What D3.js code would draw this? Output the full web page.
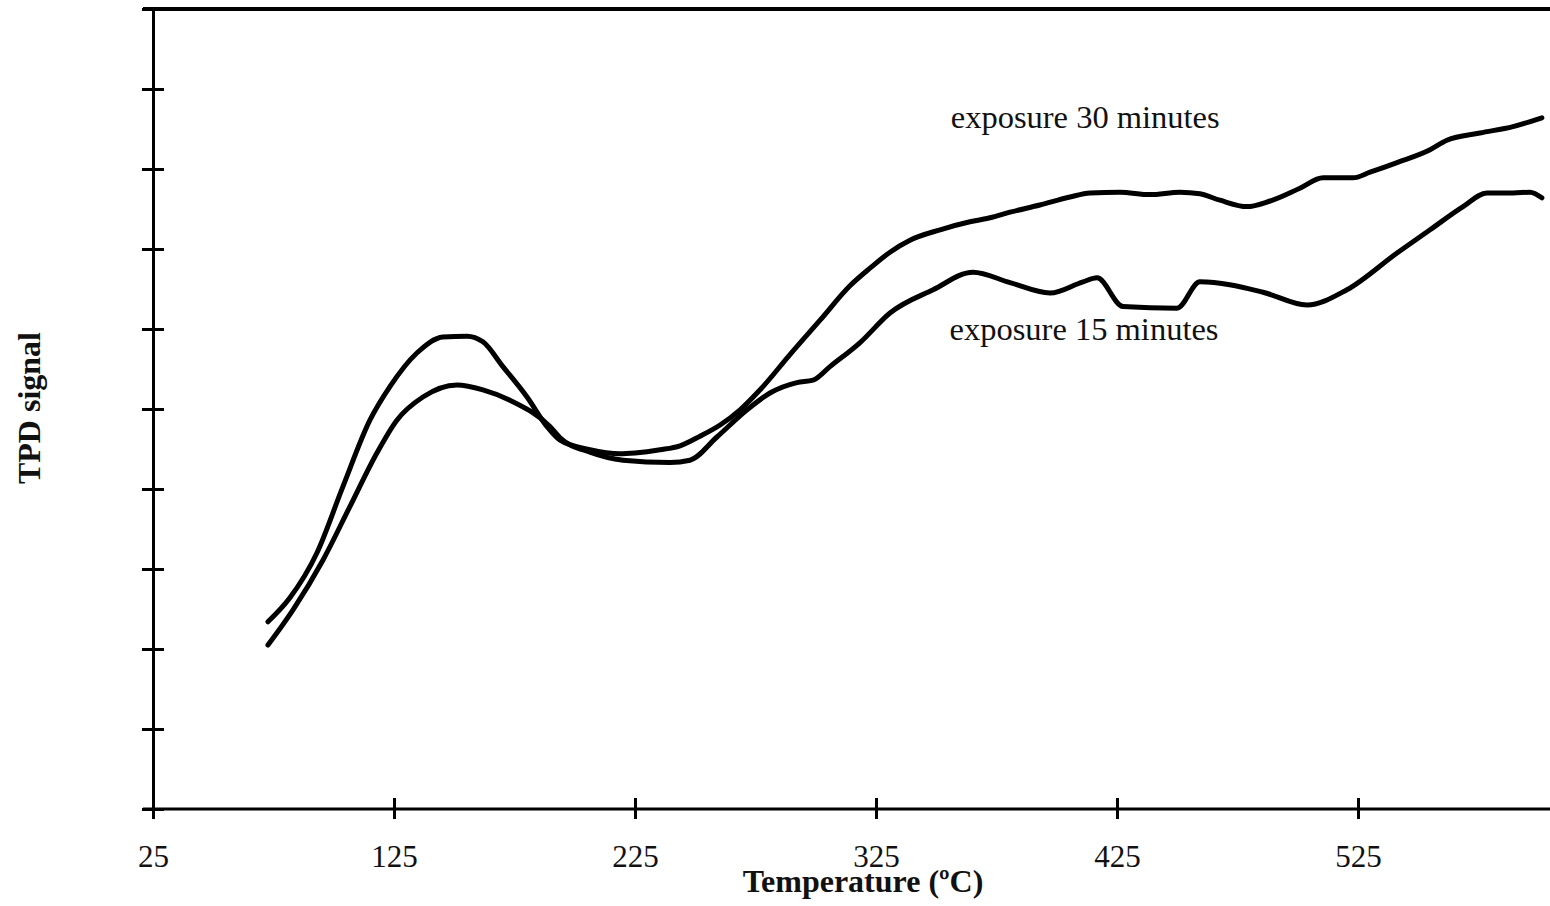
<!DOCTYPE html>
<html>
<head>
<meta charset="utf-8">
<script src="https://cdn.jsdelivr.net/npm/d3@7"></script>
<style>
  body { margin: 0; background: #fff; }
  text { font-family: "Liberation Serif", "Times New Roman", serif; fill: #111; }
</style>
</head>
<body>
<div class="chart"></div>
<script>
// temperature (ºC) / TPD signal (arbitrary units)
const temp30 = [72.7, 81.8, 93.0, 103.8, 115.0, 123.3, 134.5, 145.3, 155.3, 161.9, 170.2, 180.2, 188.5, 193.9,
  206.3, 218.8, 225, 235.4, 243.7, 252, 260.3, 268.6, 276.9, 289.3, 301.8, 314.2, 322.5, 330.8, 339.1,
  351.6, 364, 372.3, 380.6, 393, 405.5, 413.8, 426.2, 438.7, 451.1, 459.4, 467.7, 478.9, 488.5, 500.9,
  510.5, 522.9, 530, 541.2, 554.9, 561.9, 575.6, 589.3, 601.3]
const signal30 = [2.34, 2.64, 3.20, 4.03, 4.86, 5.28, 5.70, 5.90, 5.91, 5.84, 5.53, 5.15, 4.78, 4.61,
  4.49, 4.44, 4.45, 4.49, 4.54, 4.66, 4.80, 4.99, 5.24, 5.68, 6.11, 6.54, 6.76, 6.96, 7.11,
  7.24, 7.34, 7.39, 7.46, 7.55, 7.65, 7.70, 7.71, 7.68, 7.71, 7.69, 7.61, 7.53, 7.60, 7.76,
  7.89, 7.89, 7.96, 8.08, 8.24, 8.36, 8.45, 8.53, 8.64]

const temp15 = [72.7, 83.1, 95.5, 106.7, 117.9, 126.2, 137.0, 151.1, 161.9, 173.1, 189.7, 193.9, 206.3,
  220.0, 239.5, 247.8, 259.0, 271.5, 281.0, 292.2, 298.9, 305.9, 318.4, 330.8, 348.7, 365.2, 380.6,
  397.2, 410.9, 416.7, 427.5, 449.9, 459.4, 485.6, 503.8, 520.4, 541.2, 554.9, 568.6, 578.5, 589.3,
  596.4, 601.3]
const signal15 = [2.05, 2.49, 3.11, 3.78, 4.45, 4.86, 5.15, 5.30, 5.24, 5.11, 4.78, 4.64, 4.46,
  4.36, 4.33, 4.36, 4.65, 4.99, 5.20, 5.33, 5.36, 5.53, 5.83, 6.20, 6.49, 6.71, 6.58,
  6.45, 6.59, 6.64, 6.28, 6.26, 6.59, 6.46, 6.30, 6.49, 6.95, 7.24, 7.53, 7.70, 7.70,
  7.71, 7.64]

const xTicks = [25, 125, 225, 325, 425, 525]
const yTicks = [0, 1, 2, 3, 4, 5, 6, 7, 8, 9, 10]

let svg = d3.select(".chart").append("svg").attr("width", 1550).attr("height", 906),
    margin = {top: 9, right: 0, bottom: 97, left: 153},
    width = svg.attr("width") - margin.left - margin.right,
    height = svg.attr("height") - margin.top - margin.bottom;

let x = d3.scaleLinear().domain([25, 25 + width / 2.41]).range([margin.left, margin.left + width]);
let y = d3.scaleLinear().domain([0, 10]).range([margin.top + height, margin.top]);

// frame: top border and x axis run out to the right edge
svg.append("line")
  .attr("x1", margin.left - 10).attr("x2", 1550)
  .attr("y1", y(10)).attr("y2", y(10))
  .attr("stroke", "#000").attr("stroke-width", 4);

let xAxis = svg.append("g")
  .attr("transform", `translate(0,${y(0)})`)
  .call(d3.axisBottom(x).tickValues(xTicks).tickSize(10).tickSizeOuter(0).tickPadding(26))
xAxis.select(".domain").remove()
xAxis.selectAll(".tick line").attr("y1", -11).attr("y2", 10).attr("stroke", "#000").attr("stroke-width", 3)
xAxis.selectAll(".tick text").attr("font-size", 31).attr("fill", "#111")
  .style("font-family", "'Liberation Serif', serif")
svg.append("line")
  .attr("x1", margin.left - 10).attr("x2", 1550)
  .attr("y1", y(0)).attr("y2", y(0))
  .attr("stroke", "#000").attr("stroke-width", 3);

let yAxis = svg.append("g")
  .attr("transform", `translate(${margin.left},0)`)
  .call(d3.axisLeft(y).tickValues(yTicks).tickSize(11).tickSizeOuter(0).tickFormat(""))
yAxis.select(".domain").attr("stroke", "#000").attr("stroke-width", 3)
yAxis.selectAll(".tick line").attr("x1", -11).attr("x2", 11).attr("stroke", "#000").attr("stroke-width", 3)

let line = d3.line()
  .x(d => x(d[0]))
  .y(d => y(d[1]))
  .curve(d3.curveMonotoneX)

let series = [
  {name: "exposure 30 minutes", points: d3.zip(temp30, signal30)},
  {name: "exposure 15 minutes", points: d3.zip(temp15, signal15)}
]

svg.selectAll("path.curve")
  .data(series)
  .enter().append("path")
  .attr("class", "curve")
  .attr("d", d => line(d.points))
  .attr("fill", "none")
  .attr("stroke", "#000")
  .attr("stroke-width", 5)
  .attr("stroke-linejoin", "round")
  .attr("stroke-linecap", "round")

// curve labels
svg.append("text").attr("x", x(356)).attr("y", 128).attr("font-size", 32.5).text("exposure 30 minutes")
svg.append("text").attr("x", x(355.5)).attr("y", 340).attr("font-size", 32.5).text("exposure 15 minutes")

// axis titles
svg.append("text")
  .attr("x", 863).attr("y", 892)
  .attr("text-anchor", "middle")
  .attr("font-size", 32).attr("font-weight", "bold")
  .text("Temperature (ºC)")

svg.append("text")
  .attr("transform", "translate(40,408) rotate(-90)")
  .attr("text-anchor", "middle")
  .attr("font-size", 32).attr("font-weight", "bold")
  .text("TPD signal")
</script>
</body>
</html>
